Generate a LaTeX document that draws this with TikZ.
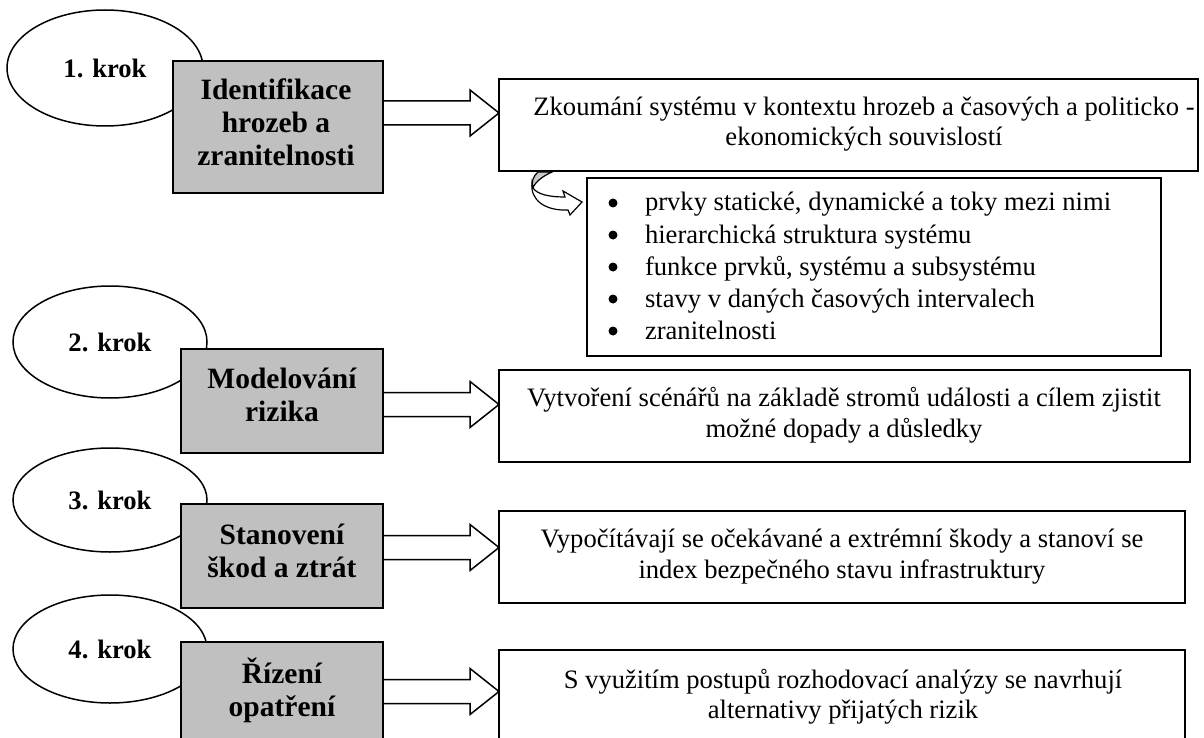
\documentclass[tikz,border=0pt]{standalone}
\usepackage{fontspec}
\setmainfont{Liberation Serif}
\usetikzlibrary{shapes.geometric,calc}
\definecolor{boxgray}{RGB}{192,192,192}
\definecolor{backgray}{RGB}{200,200,200}
\tikzset{
  every node/.style={inner sep=0pt, outer sep=0pt},
  stepell/.style={ellipse, draw, line width=1.5pt, fill=white,
    font=\fontsize{26.6}{30}\selectfont\bfseries},
  graybox/.style={rectangle, draw, line width=2pt, fill=boxgray},
  whitebox/.style={rectangle, draw, line width=2pt, fill=white},
  boldtxt/.style={font=\fontsize{29.5}{33}\selectfont\bfseries, anchor=base},
  bodytxt/.style={font=\fontsize{26.6}{30.5}\selectfont, anchor=base},
  bullettxt/.style={font=\fontsize{26.6}{30.5}\selectfont, anchor=base west},
  hollow/.style={draw, line width=1.5pt, fill=white, line join=miter},
}
\newcommand{\blockarrow}[2]{%
  \path[hollow] ([xshift=1pt,yshift=12pt]#1) -- ([xshift=-29pt,yshift=12pt]#2)
    -- ([xshift=-29pt,yshift=23pt]#2) -- (#2) -- ([xshift=-29pt,yshift=-23pt]#2)
    -- ([xshift=-29pt,yshift=-12pt]#2) -- ([xshift=1pt,yshift=-12pt]#1);}
\begin{document}
\begin{tikzpicture}[x=1pt,y=-1pt]
\useasboundingbox (0,0) rectangle (1204,738);
\clip (0,0) rectangle (1204,738);

% step ellipses
\node[stepell, minimum width=196pt, minimum height=116pt] (e1) at (105,68) {1. krok};
\node[stepell, minimum width=194pt, minimum height=112pt] (e2) at (110,342) {2. krok};
\node[stepell, minimum width=194pt, minimum height=104pt] (e3) at (110,500) {3. krok};
\node[stepell, minimum width=194pt, minimum height=108pt] (e4) at (110,649) {4. krok};

% gray boxes
\node[graybox, minimum width=210pt, minimum height=132pt] (g1) at (278,127) {};
\node[graybox, minimum width=202pt, minimum height=104pt] (g2) at (282,401) {};
\node[graybox, minimum width=202pt, minimum height=104pt] (g3) at (282,556) {};
\node[graybox, minimum width=202pt, minimum height=128pt] (g4) at (282,706) {};

\node[boldtxt] (g1a) at (276,100) {Identifikace};
\node[boldtxt] (g1b) at (276,133) {hrozeb a};
\node[boldtxt] (g1c) at (276,166) {zranitelnosti};
\node[boldtxt] (g2a) at (282,388) {Modelování};
\node[boldtxt] (g2b) at (282,421) {rizika};
\node[boldtxt] (g3a) at (282,544) {Stanovení};
\node[boldtxt] (g3b) at (282,577) {škod a ztrát};
\node[boldtxt] (g4a) at (282,683) {Řízení};
\node[boldtxt] (g4b) at (282,716) {opatření};

% right boxes
\node[whitebox, minimum width=699pt, minimum height=92pt] (b1) at (848.5,125) {};
\node[whitebox, minimum width=574pt, minimum height=178pt] (bl) at (874,267) {};
\node[whitebox, minimum width=691pt, minimum height=92pt] (b2) at (844.5,416) {};
\node[whitebox, minimum width=686pt, minimum height=92pt] (b3) at (842,557) {};
\node[whitebox, minimum width=686pt, minimum height=120pt] (b4) at (842,710) {};

\node[bodytxt] (b1a) at (864,116) {Zkoumání systému v kontextu hrozeb a časových a politicko -};
\node[bodytxt] (b1b) at (864,146) {ekonomických souvislostí};
\node[bodytxt] (b2a) at (844,406) {Vytvoření scénářů na základě stromů události a cílem zjistit};
\node[bodytxt] (b2b) at (844,437) {možné dopady a důsledky};
\node[bodytxt] (b3a) at (842,547) {Vypočítávají se očekávané a extrémní škody a stanoví se};
\node[bodytxt] (b3b) at (842,578) {index bezpečného stavu infrastruktury};
\node[bodytxt] (b4a) at (843,688) {S využitím postupů rozhodovací analýzy se navrhují};
\node[bodytxt] (b4b) at (843,718) {alternativy přijatých rizik};

% bullet list
\foreach \yy/\txt [count=\i] in {211/{prvky statické, dynamické a toky mezi nimi},
  243/{hierarchická struktura systému},
  275/{funkce prvků, systému a subsystému},
  307/{stavy v daných časových intervalech},
  339/{zranitelnosti}}{
  \fill (613,\yy-8) circle (4.5);
  \node[bullettxt] (li\i) at (645,\yy) {\txt};
}

% block arrows
\coordinate (a1s) at (g1.east |- 0,113);  \coordinate (a1e) at (b1.west |- 0,113);
\coordinate (a2s) at (g2.east |- 0,404.5); \coordinate (a2e) at (b2.west |- 0,404.5);
\coordinate (a3s) at (g3.east |- 0,547.5); \coordinate (a3e) at (b3.west |- 0,547.5);
\coordinate (a4s) at (g4.east |- 0,691.5); \coordinate (a4e) at (b4.west |- 0,691.5);
\blockarrow{a1s}{a1e}
\blockarrow{a2s}{a2e}
\blockarrow{a3s}{a3e}
\blockarrow{a4s}{a4e}

% curved arrow from b1 to the list
\filldraw[fill=backgray, line width=1.2pt] (538,172) -- (552,172)
  .. controls (543,176) and (535,182) .. (533,188)
  .. controls (531,183) and (533,176) .. (538,172);
\filldraw[fill=white, line width=1.2pt, line join=miter] (532,183)
  .. controls (530,200) and (545,211) .. (568,210)
  -- (570,215) -- (582,202) -- (563,191) -- (565,197)
  .. controls (548,197) and (537,194) .. (533,188) -- cycle;
\end{tikzpicture}
\end{document}
